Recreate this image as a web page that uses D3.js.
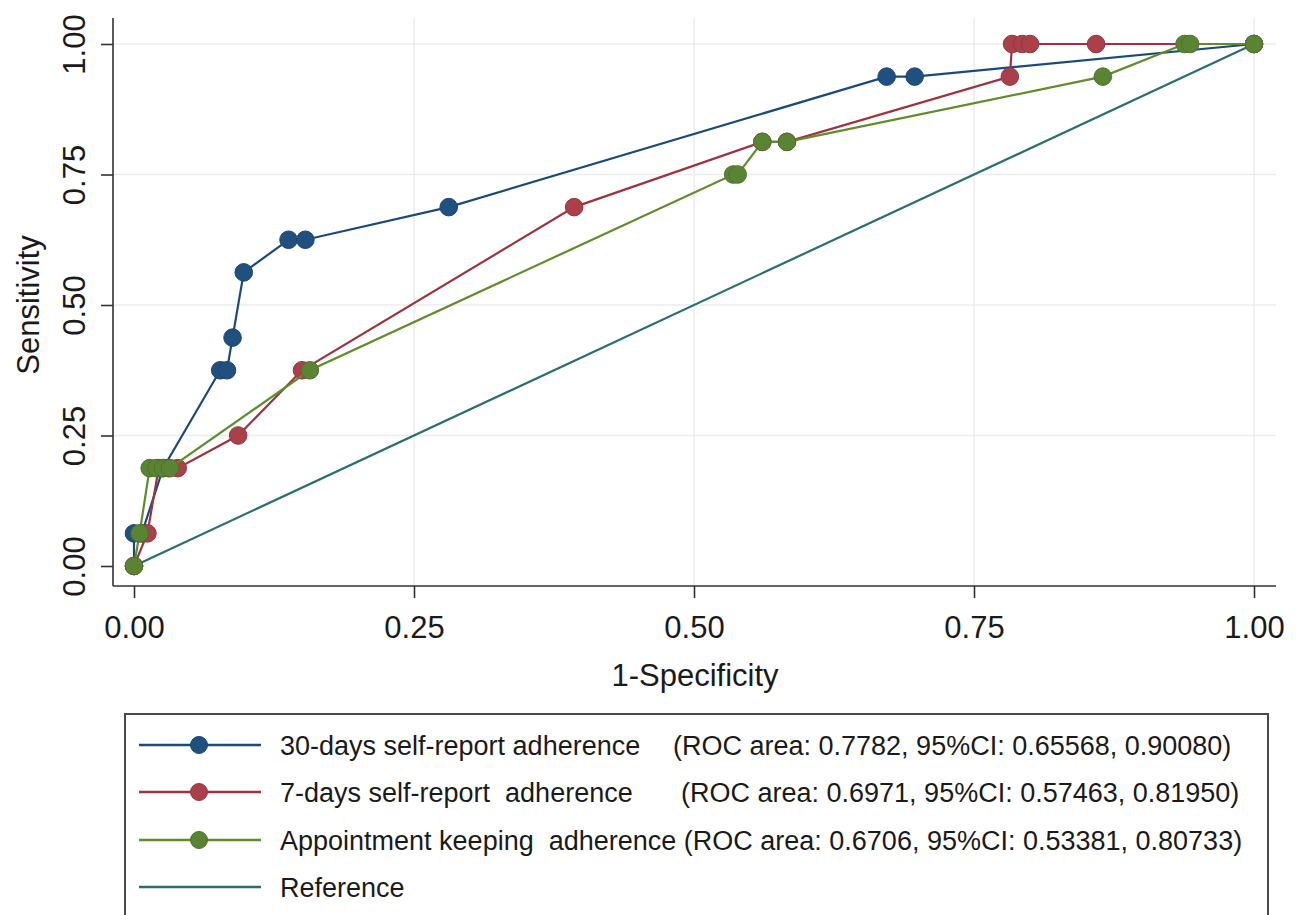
<!DOCTYPE html>
<html>
<head>
<meta charset="utf-8">
<script src="https://cdn.jsdelivr.net/npm/d3@7"></script>
<style>
  html, body { margin: 0; padding: 0; background: #ffffff; }
  svg { display: block; }
  text { font-family: "Liberation Sans", Arial, sans-serif; fill: #1a1a1a; white-space: pre; }
</style>
</head>
<body>
<svg id="chart" width="1303" height="915"></svg>
<script>
// ---------- data ----------
const xTicks = [0, 0.25, 0.5, 0.75, 1];
const yTicks = [0, 0.25, 0.5, 0.75, 1];
const tickLabels = ["0.00", "0.25", "0.50", "0.75", "1.00"];

const selfReport30X = [0, 0, 0.007, 0.026, 0.077, 0.083, 0.088, 0.098, 0.138, 0.153, 0.281, 0.672, 0.697, 1];
const selfReport30Y = [0, 0.0625, 0.0625, 0.1875, 0.375, 0.375, 0.4375, 0.5625, 0.625, 0.625, 0.6875, 0.9375, 0.9375, 1];

const selfReport7X = [0, 0.012, 0.022, 0.031, 0.039, 0.093, 0.150, 0.393, 0.561, 0.583, 0.782, 0.784, 0.793, 0.800, 0.859, 1];
const selfReport7Y = [0, 0.0625, 0.1875, 0.1875, 0.1875, 0.25, 0.375, 0.6875, 0.8125, 0.8125, 0.9375, 1, 1, 1, 1, 1];

const appointmentX = [0, 0.005, 0.014, 0.020, 0.026, 0.032, 0.157, 0.535, 0.539, 0.561, 0.583, 0.865, 0.938, 0.943, 1];
const appointmentY = [0, 0.0625, 0.1875, 0.1875, 0.1875, 0.1875, 0.375, 0.75, 0.75, 0.8125, 0.8125, 0.9375, 1, 1, 1];

const referenceX = [0, 1];
const referenceY = [0, 1];

const seriesNames = ["30-days self-report adherence", "7-days self-report  adherence", "Appointment keeping  adherence", "Reference"];
const seriesStats = ["(ROC area: 0.7782, 95%CI: 0.65568, 0.90080)", "(ROC area: 0.6971, 95%CI: 0.57463, 0.81950)", "(ROC area: 0.6706, 95%CI: 0.53381, 0.80733)", ""];

const xTitle = "1-Specificity";
const yTitle = "Sensitivity";

// ---------- styles ----------
const lineColors = ["#1c4a78", "#9c3440", "#5f8c2c", "#2b6f6c"];
const markerColors = ["#1f5080", "#a9404a", "#5a8433", null];

const svg = d3.select("#chart");

const x = d3.scaleLinear().domain([0, 1]).range([134, 1254]);
const y = d3.scaleLinear().domain([0, 1]).range([566, 44]);

const plotLeft = 113, plotRight = 1276, plotTop = 18, plotBottom = 586;

// grid
const grid = svg.append("g");
grid.selectAll("line.hg").data(yTicks.slice(1)).enter().append("line")
  .attr("x1", plotLeft).attr("x2", plotRight)
  .attr("y1", d => y(d)).attr("y2", d => y(d))
  .attr("stroke", "#eaedf0").attr("stroke-width", 1.5);
grid.selectAll("line.vg").data(xTicks.slice(1)).enter().append("line")
  .attr("y1", plotTop).attr("y2", plotBottom)
  .attr("x1", d => x(d)).attr("x2", d => x(d))
  .attr("stroke", "#eaedf0").attr("stroke-width", 1.5);

// axes
const xAxis = d3.axisBottom(x).tickValues(xTicks).tickFormat((d, i) => tickLabels[i]).tickSize(12).tickSizeOuter(0).tickPadding(18);
const gx = svg.append("g").attr("transform", `translate(0,${plotBottom})`).call(xAxis);
gx.select(".domain").attr("d", `M${plotLeft},0H${plotRight}`).attr("stroke", "#333").attr("stroke-width", 1.6);
gx.selectAll(".tick line").attr("stroke", "#333").attr("stroke-width", 1.6);
gx.selectAll(".tick text").attr("font-size", 31).attr("fill", "#1a1a1a")
  .attr("font-family", "Liberation Sans, Arial, sans-serif");

const yAxis = d3.axisLeft(y).tickValues(yTicks).tickFormat((d, i) => tickLabels[i]).tickSize(12).tickSizeOuter(0).tickPadding(14);
const gy = svg.append("g").attr("transform", `translate(${plotLeft},0)`).call(yAxis);
gy.select(".domain").attr("d", `M0,${plotTop}V${plotBottom}`).attr("stroke", "#333").attr("stroke-width", 1.6);
gy.selectAll(".tick line").attr("stroke", "#333").attr("stroke-width", 1.6);
gy.selectAll(".tick text")
  .attr("font-size", 31).attr("fill", "#1a1a1a")
  .attr("font-family", "Liberation Sans, Arial, sans-serif")
  .attr("x", null).attr("dy", null)
  .attr("text-anchor", "middle")
  .attr("transform", "translate(-28,0) rotate(-90)");

// axis titles
svg.append("text").attr("x", 695).attr("y", 686).attr("text-anchor", "middle")
  .attr("font-size", 31).text(xTitle);
svg.append("text").attr("transform", "translate(39,305) rotate(-90)").attr("text-anchor", "middle")
  .attr("font-size", 31).text(yTitle);

// series
const series = [
  { xs: selfReport30X, ys: selfReport30Y },
  { xs: selfReport7X, ys: selfReport7Y },
  { xs: appointmentX, ys: appointmentY }
];
const line = d3.line().x(d => x(d[0])).y(d => y(d[1]));

// reference line
svg.append("path").datum(d3.zip(referenceX, referenceY))
  .attr("d", line).attr("fill", "none").attr("stroke", lineColors[3]).attr("stroke-width", 2.2);

series.forEach((s, i) => {
  const pts = d3.zip(s.xs, s.ys);
  const g = svg.append("g");
  g.append("path").datum(pts).attr("d", line).attr("fill", "none")
    .attr("stroke", lineColors[i]).attr("stroke-width", 2.2);
  g.selectAll("circle").data(pts).enter().append("circle")
    .attr("cx", d => x(d[0])).attr("cy", d => y(d[1])).attr("r", 8.8)
    .attr("fill", markerColors[i]).attr("stroke", d3.color(markerColors[i]).darker(0.4)).attr("stroke-width", 1);
});

// legend
const lg = svg.append("g");
lg.append("rect").attr("x", 125).attr("y", 714).attr("width", 1143).attr("height", 240)
  .attr("fill", "#ffffff").attr("stroke", "#4a4a4a").attr("stroke-width", 2);
const rowY = [745, 792, 840, 887];
const statX = [673, 681, null];
seriesNames.forEach((name, i) => {
  const ry = rowY[i];
  lg.append("line").attr("x1", 139).attr("x2", 261).attr("y1", ry).attr("y2", ry)
    .attr("stroke", lineColors[i]).attr("stroke-width", 2.5);
  if (markerColors[i]) {
    lg.append("circle").attr("cx", 199).attr("cy", ry).attr("r", 8.5)
      .attr("fill", markerColors[i]).attr("stroke", d3.color(markerColors[i]).darker(0.4)).attr("stroke-width", 1);
  }
  if (seriesStats[i] && statX[i] === null) {
    // name and statistics run together on one line
    lg.append("text").attr("x", 280).attr("y", ry).attr("dy", "0.36em")
      .attr("font-size", 27).text(name + " " + seriesStats[i]);
  } else {
    lg.append("text").attr("x", 280).attr("y", ry).attr("dy", "0.36em")
      .attr("font-size", 27).text(name);
    if (seriesStats[i]) {
      lg.append("text").attr("x", statX[i]).attr("y", ry).attr("dy", "0.36em")
        .attr("font-size", 27).text(seriesStats[i]);
    }
  }
});
</script>
</body>
</html>
